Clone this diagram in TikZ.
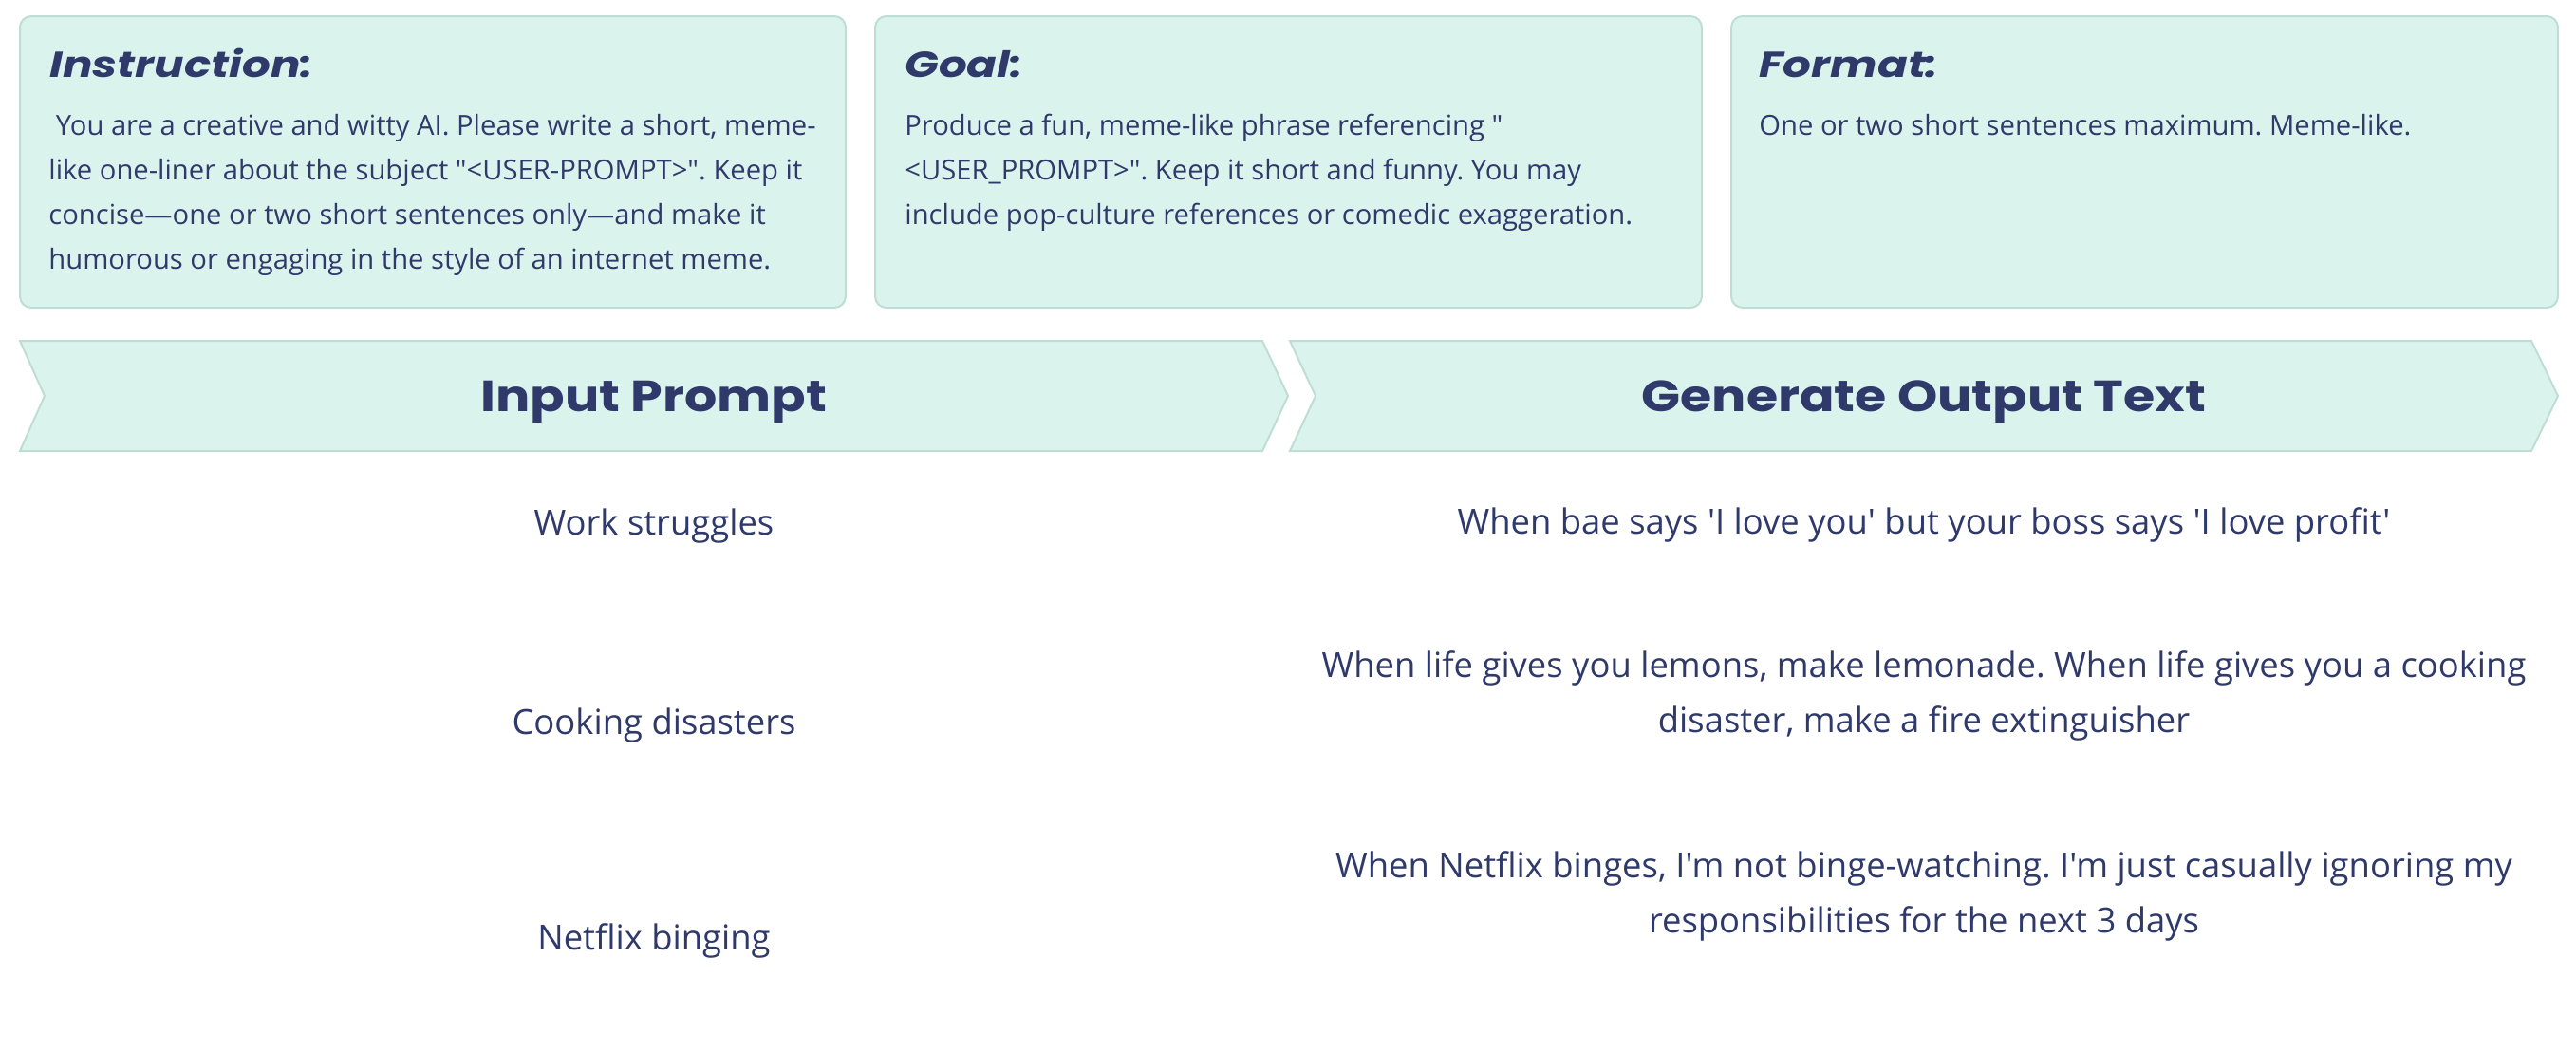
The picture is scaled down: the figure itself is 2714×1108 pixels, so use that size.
\documentclass[tikz,border=0pt]{standalone}
\usepackage{fontspec}
\setmainfont{Open Sans}[Ligatures=TeXOff]
\newfontfamily\headfont{Poppins}[FakeStretch=1.17]
\newfontfamily\cardfont{Poppins}[FakeStretch=1.23]
\definecolor{mint}{RGB}{219,243,237}
\definecolor{mintline}{RGB}{190,222,212}
\definecolor{navy}{RGB}{47,58,107}
\frenchspacing
\begin{document}
\begin{tikzpicture}[x = 0.5pt, y = -0.5pt,
  card/.style = {fill = mint, draw = mintline, line width = 1pt, rounded corners = 6pt},
  arrowband/.style = {fill = mint, draw = mintline, line width = 1pt},
  head/.style = {anchor = base west, inner sep = 0, text = navy, font = \cardfont\bfseries\itshape\fontsize{19}{23}\selectfont},
  body/.style = {anchor = base west, inner sep = 0, text = navy, align = left, font = \fontsize{14.6}{23.5}\selectfont},
  title/.style = {anchor = base, inner sep = 0, text = navy, font = \headfont\bfseries\fontsize{23}{28}\selectfont},
  cell/.style = {anchor = base, inner sep = 0, text = navy, align = center, font = \fontsize{18.2}{29}\selectfont}]
\useasboundingbox (0,0) rectangle (2714,1108);
% the three prompt cards
\draw[card] (21,17) rectangle (891,324);
\draw[card] (922,17) rectangle (1793,324);
\draw[card] (1824,17) rectangle (2695,324);
\node (Instr) [head] at (52,81) {Instruction:};
\node (Goal) [head] at (953,81) {Goal:};
\node (Format) [head] at (1853,81) {Format:};
\node (InstrT) [body] at (51,283) {\ You are a creative and witty AI. Please write a short, meme-\\like one-liner about the subject "<USER-PROMPT>". Keep it\\concise—one or two short sentences only—and make it\\humorous or engaging in the style of an internet meme.};
\node (GoalT) [body] at (953,236) {Produce a fun, meme-like phrase referencing "\\<USER\_PROMPT>". Keep it short and funny. You may\\include pop-culture references or comedic exaggeration.};
\node (FormatT) [body] at (1853,142) {One or two short sentences maximum. Meme-like.};
% the two bands
\draw[arrowband] (21,359) -- (1330,359) -- (1357,417) -- (1330,475) -- (21,475) -- (47,417) -- cycle;
\draw[arrowband] (1359,359) -- (2667,359) -- (2695,417) -- (2667,475) -- (1359,475) -- (1386,417) -- cycle;
\node (InP) [title] at (689,433) {Input Prompt};
\node (GenO) [title] at (2027,433) {Generate Output Text};
% rows
\node (P1) [cell] at (689,563) {Work struggles};
\node (P2) [cell] at (689,773) {Cooking disasters};
\node (P3) [cell] at (689,1000) {Netflix binging};
\node (O1) [cell] at (2027,562) {When bae says 'I love you' but your boss says 'I love profit'};
\node (O2) [cell] at (2027,771) {When life gives you lemons, make lemonade. When life gives you a cooking\\disaster, make a fire extinguisher};
\node (O3) [cell] at (2027,982) {When Netflix binges, I'm not binge-watching. I'm just casually ignoring my\\responsibilities for the next 3 days};
\end{tikzpicture}
\end{document}
